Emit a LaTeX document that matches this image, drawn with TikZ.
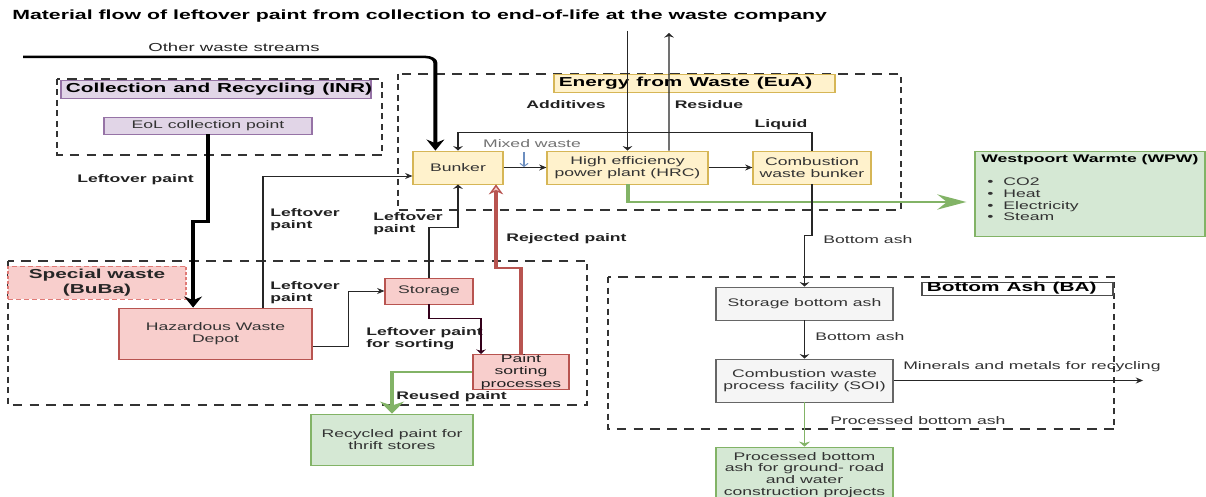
\documentclass[tikz,border=0pt]{standalone}
\usepackage{fontspec}
\setmainfont{Liberation Sans}
\usetikzlibrary{arrows.meta}

\definecolor{txt}{HTML}{333333}
\definecolor{lbltxt}{HTML}{222222}
\definecolor{purF}{HTML}{E1D5E7}
\definecolor{purD}{HTML}{9673A6}
\definecolor{redF}{HTML}{F8CECC}
\definecolor{redD}{HTML}{B85450}
\definecolor{redDash}{HTML}{E07A76}
\definecolor{yelF}{HTML}{FFF2CC}
\definecolor{yelD}{HTML}{D6B656}
\definecolor{grnF}{HTML}{D5E8D4}
\definecolor{grnD}{HTML}{82B366}
\definecolor{gryF}{HTML}{F5F5F5}
\definecolor{gryD}{HTML}{666666}
\definecolor{bluD}{HTML}{6C8EBF}
\definecolor{wine}{HTML}{33001A}

% font sizes: body, headings, bold labels
\newcommand\fsBody{\fontsize{11}{12.5}\selectfont}
\newcommand\fsHead{\fontsize{13}{15}\selectfont\bfseries}
\newcommand\fsLbl{\fontsize{11}{12}\selectfont\bfseries}

\begin{document}
\begin{tikzpicture}[x=1pt,y=-1pt]
\fill[white] (0,0) rectangle (1206,497);
\path[use as bounding box] (0,0) rectangle (1206,497);

% everything is drawn on a horizontally widened canvas
\begin{scope}[x=0.625pt, transform canvas={xscale=1.6},
  every node/.style={font=\fsBody, text=txt, inner sep=0pt},
  box/.style={draw, line width=0.8pt, align=center},
  purbox/.style={box, fill=purF, draw=purD},
  redbox/.style={box, fill=redF, draw=redD},
  yelbox/.style={box, fill=yelF, draw=yelD},
  grnbox/.style={box, fill=grnF, draw=grnD},
  grybox/.style={box, fill=gryF, draw=gryD},
  headbox/.style={font=\fsHead, text=black, text height=9.5pt, text depth=2.8pt},
  grp/.style={draw=black!80, line width=1.6pt, dash pattern=on 6pt off 4.5pt},
  lbl/.style={font=\fsBody, text=txt},
  blbl/.style={font=\fsLbl, text=lbltxt, align=left},
  conn/.style={draw=black!85, line width=0.8pt, -{Stealth[length=4.5pt,width=6pt]}},
  thickblk/.style={draw=black, line width=2.5pt, -{Stealth[length=11pt,width=11pt]}},
  grnthick/.style={draw=grnD, line width=2.5pt},
  redthick/.style={draw=redD, line width=2pt,
    -{Stealth[length=10pt,width=9pt,fill=redF,line width=1pt]}},
  winearrow/.style={draw=wine, line width=0.8pt, -{Stealth[length=4.5pt,width=6pt]}},
  bluarrow/.style={draw=bluD, line width=0.8pt, -{Straight Barb[length=3pt,width=5pt]}},
  grnthin/.style={draw=grnD, line width=0.8pt, -{Stealth[length=5pt,width=7pt]}},
]

% ---- group frames
\draw[grp] (57,79) rectangle (382,155);
\draw[grp] (398,74) rectangle (901,210);
\draw[grp] (8,261) rectangle (587,405);
\draw[grp] (608,277) rectangle (1114,429);

% ---- title and group labels
\node[anchor=west, font=\fontsize{13.3}{15}\selectfont\bfseries, text=black] (title) at (12,16)
  {Material flow of leftover paint from collection to end-of-life at the waste company};
\node[purbox, headbox, text width=187.75pt, inner xsep=3pt, align=left, minimum height=18pt]
  (inrlab) at (216,89) {\mbox{Collection and Recycling (INR)}};
\node[yelbox, headbox, text width=169.6pt, inner xsep=3pt, align=left, minimum height=18pt]
  (eualab) at (694.5,83) {\mbox{Energy from Waste (EuA)}};
\node[redbox, draw=redDash, dash pattern=on 3pt off 2pt, font=\fsHead, text=black!85,
  minimum width=111.25pt, minimum height=33pt] (swlab) at (97,282.5) {Special waste\\(BuBa)};
\node[box, fill=white, draw=black!70, headbox, text width=113.4pt, inner xsep=3pt, align=left,
  minimum height=13pt] (balab) at (1017.5,288.5) {\mbox{Bottom Ash (BA)}};

% ---- process boxes
\node[purbox, minimum width=130pt, minimum height=17pt] (eol) at (208,125.5) {EoL collection point};
\node[redbox, minimum width=120.6pt, minimum height=51pt] (hwd) at (215.5,333.5) {Hazardous Waste\\Depot};
\node[redbox, minimum width=55pt, minimum height=26pt] (stor) at (429,291) {Storage};
\node[redbox, minimum width=60pt, minimum height=34pt, text=lbltxt] (psp) at (521,372) {Paint\\sorting\\processes};
\node[grnbox, minimum width=101.25pt, minimum height=51pt] (rec) at (392,439.5) {Recycled paint for\\thrift stores};
\node[yelbox, minimum width=56.25pt, minimum height=33pt] (bunker) at (458,167.5) {Bunker};
\node[yelbox, minimum width=100.6pt, minimum height=33pt] (hrc) at (627.5,167.5) {High efficiency\\power plant (HRC)};
\node[yelbox, minimum width=73.75pt, minimum height=33pt] (cwb) at (812,167.5) {Combustion\\waste bunker};
\node[grnbox, minimum width=143.75pt, minimum height=85pt] (wpw) at (1090,193.5) {};
\node[anchor=north west, align=left, text=txt, font=\fontsize{11}{11.7}\selectfont] (wpwtxt) at (981,154)
  {\textcolor{black}{\bfseries Westpoort Warmte (WPW)}\\[12pt]
   \hspace*{3.75pt}\textbullet\hspace{6.2pt}CO2\\
   \hspace*{3.75pt}\textbullet\hspace{6.2pt}Heat\\
   \hspace*{3.75pt}\textbullet\hspace{6.2pt}Electricity\\
   \hspace*{3.75pt}\textbullet\hspace{6.2pt}Steam};
\node[grybox, minimum width=110.6pt, minimum height=33pt] (sba) at (804.5,303.5) {Storage bottom ash};
\node[grybox, minimum width=110.6pt, minimum height=43pt] (cwpf) at (804.5,380.5) {Combustion waste\\process facility (SOI)};
\node[grnbox, minimum width=110.6pt, minimum height=56pt, font=\fontsize{11}{11.7}\selectfont] (pba) at (804.5,475)
  {Processed bottom\\ash for ground- road\\and water\\construction projects};

% ---- flow labels
\node[font=\fontsize{11.6}{13}\selectfont, text=black!85] (owslbl) at (234,47) {Other waste streams};
\node[blbl] (lp1) at (135.5,180) {Leftover paint};
\node[blbl, anchor=west] (lp2) at (270,220) {Leftover\\paint};
\node[blbl, anchor=west] (lp3) at (270,292.5) {Leftover\\paint};
\node[blbl, anchor=west] (lp4) at (373,224) {Leftover\\paint};
\node[blbl, anchor=west] (lp5) at (366,338.5) {Leftover paint\\for sorting};
\node[blbl, anchor=west] (reused) at (396,397) {Reused paint};
\node[blbl, anchor=west] (rejected) at (506,239) {Rejected paint};
\node[blbl] (addl) at (566,105) {Additives};
\node[blbl] (resl) at (709,105) {Residue};
\node[blbl] (liql) at (781,125) {Liquid};
\node[lbl, text=black!55] (mixl) at (532,144) {Mixed waste};
\node[lbl, anchor=west] (ba1) at (823,240) {Bottom ash};
\node[lbl, anchor=west] (ba2) at (815,337) {Bottom ash};
\node[lbl, anchor=west] (minl) at (903,367) {Minerals and metals for recycling};
\node[lbl, anchor=west] (pbal) at (830,421) {Processed bottom ash};

% ---- free ends
\coordinate (owsL) at (23,57);
\coordinate (addT) at (627.5,31);
\coordinate (resT) at (669,33);
\coordinate (mwT) at (524,152);
\coordinate (mwB) at (524,167);
\coordinate (minE) at (1143,380.5);

% ---- connectors
\draw[thickblk, rounded corners=6pt] (owsL) -| ([xshift=14.4pt]bunker.north west);
\draw[thickblk] (eol.south) -- ++(0,87) -| ([xshift=-14pt]hwd.north);
\draw[conn] ([xshift=29.7pt]hwd.north) |- ([yshift=-8.5pt]bunker.west);
\draw[conn] ([yshift=-12.5pt]hwd.east) -- ++(36,0) |- (stor.west);
\draw[conn] (stor.north) -- ++(0,-50) -| (bunker.south);
\draw[winearrow] (stor.south) -- ++(0,14) -| ([xshift=-25pt]psp.north);
\draw[redthick] (psp.north) -- ++(0,-86) -| ([xshift=23.75pt]bunker.south);
\draw[grnthick, -{Stealth[length=12pt,width=15pt]}] (psp.west) -| (rec.north);
\draw[conn] (bunker.east) -- (hrc.west);
\draw[bluarrow] (mwT) -- (mwB);
\draw[conn] (hrc.east) -- (cwb.west);
\draw[conn] (addT) -- (hrc.north);
\draw[conn] ([xshift=25.9pt]hrc.north) -- (resT);
\draw[conn] (cwb.north) -- ++(0,-18) -| (bunker.north);
\draw[grnthick, -{Stealth[length=18pt,width=15pt]}, shorten >=5pt] (hrc.south) |- ([yshift=-8.5pt]wpw.west);
\draw[conn] (cwb.south) -- ++(0,51) -| (sba.north);
\draw[conn] (sba.south) -- (cwpf.north);
\draw[conn] (cwpf.east) -- (minE);
\draw[grnthin] (cwpf.south) -- (pba.north);
\end{scope}
\end{tikzpicture}
\end{document}
